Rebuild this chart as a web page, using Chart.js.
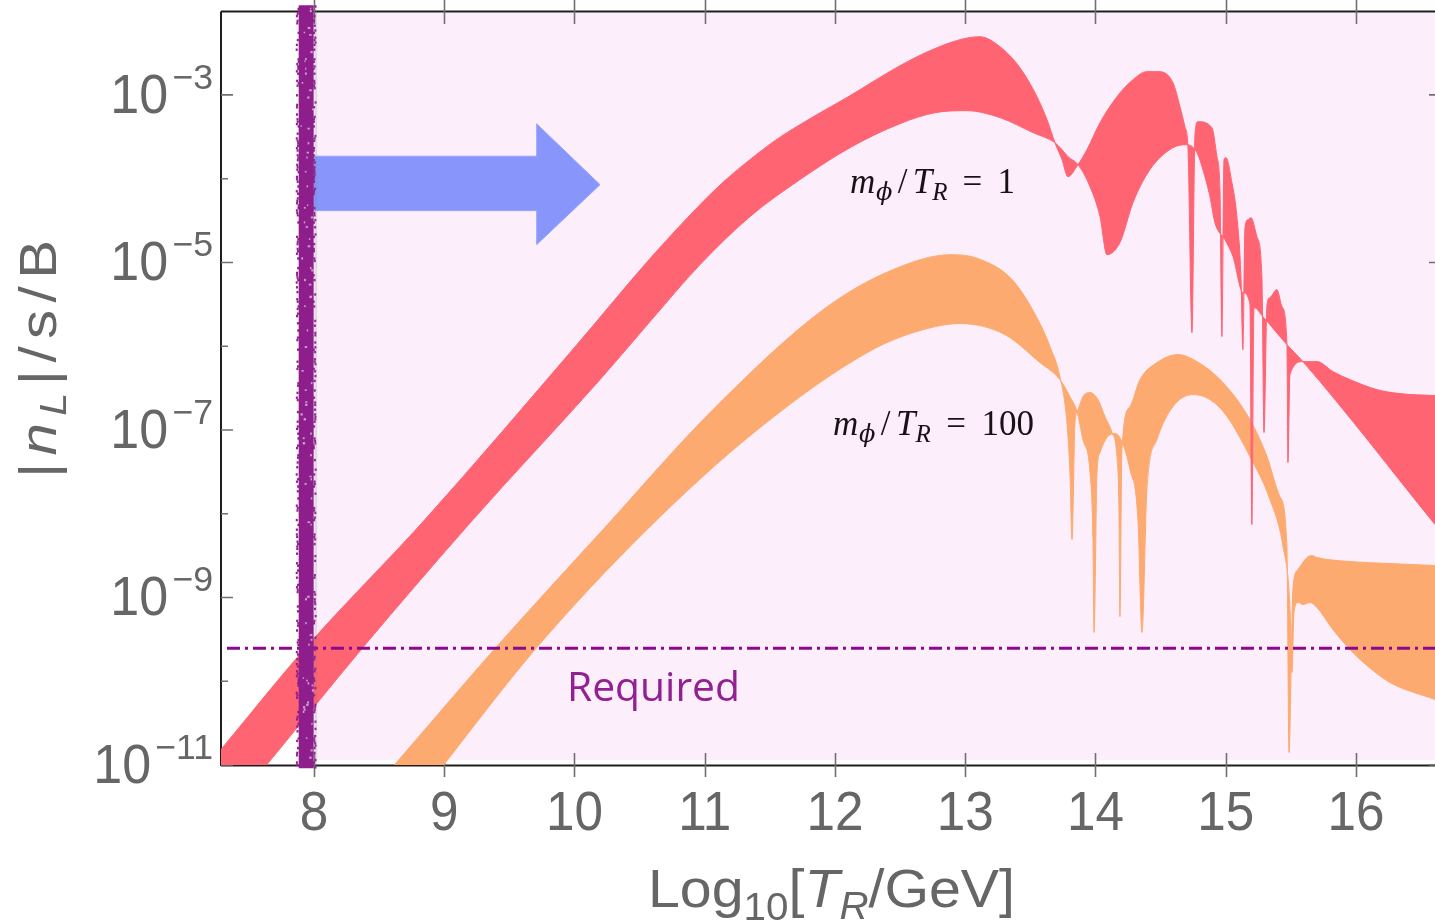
<!DOCTYPE html>
<html>
<head>
<meta charset="utf-8">
<script src="https://cdn.jsdelivr.net/npm/chart.js@4.4.0/dist/chart.umd.min.js"></script>
<style>
  html, body { margin: 0; padding: 0; background: #fff; }
</style>
</head>
<body>
<canvas id="c" width="1435" height="923"></canvas>
<script>
// every pair is [log10(T_R/GeV), log10(|n_L|/s/B)]
const redUpper = [
  [7.286,-10.815],[7.931,-9.609],[8.852,-8.070],[10.019,-5.981],[10.580,-4.954],[10.964,-4.310],
  [11.155,-4.023],[11.347,-3.773],[11.539,-3.546],[11.731,-3.355],[12.115,-3.009],[12.499,-2.651],
  [12.729,-2.472],[12.960,-2.340],[13.113,-2.305],
  [13.267,-2.424],[13.420,-2.675],[13.551,-3.021],[13.628,-3.295],[13.689,-3.570],[13.743,-3.773],
  [13.789,-3.976],[13.866,-3.832],[13.935,-3.653],[14.035,-3.331],[14.165,-3.021],[14.288,-2.818],
  [14.395,-2.722],[14.488,-2.722],[14.595,-2.854],[14.649,-3.140],[14.687,-3.379],[14.710,-3.618],
  [14.741,-5.838],[14.764,-3.474],[14.787,-3.319],[14.894,-3.391],[14.933,-3.737],[14.956,-4.131],
  [14.971,-5.885],[14.987,-3.773],[15.002,-3.749],[15.048,-4.047],[15.086,-4.453],[15.117,-5.169],
  [15.132,-6.041],[15.148,-4.584],[15.171,-4.489],[15.194,-4.465],[15.240,-4.692],[15.278,-5.169],
  [15.294,-7.031],[15.317,-5.503],[15.340,-5.420],[15.393,-5.324],[15.432,-5.527],[15.470,-5.957],
  [15.478,-7.389],[15.493,-6.339],[15.593,-6.184],[15.701,-6.184],[15.823,-6.303],[15.954,-6.399],
  [16.161,-6.518],[16.338,-6.566],[16.607,-6.590]
];
const redLower = [
  [7.286,-11.651],[7.639,-10.994],[8.369,-9.609],[9.221,-8.070],[10.196,-6.399],[10.580,-5.706],
  [10.964,-5.026],[11.347,-4.453],[11.731,-4.011],[12.115,-3.630],[12.499,-3.343],[12.768,-3.212],
  [13.013,-3.188],
  [13.267,-3.271],[13.520,-3.450],[13.689,-3.570],[13.743,-3.653],[13.789,-3.737],[13.866,-3.832],
  [13.958,-4.095],[14.035,-4.453],[14.088,-4.907],[14.188,-4.763],[14.288,-4.286],[14.418,-3.892],
  [14.595,-3.630],[14.702,-3.594],[14.779,-3.689],[14.825,-3.892],[14.879,-4.214],[14.917,-4.525],
  [14.994,-4.728],[15.056,-4.931],[15.132,-5.360],[15.186,-5.492],[15.201,-8.129],[15.217,-5.539],
  [15.286,-5.647],[15.470,-5.981],[15.593,-6.184],[16.607,-8.129]
];
const orangeUpper = [
  [8.400,-11.390],[8.607,-11.018],[9.390,-9.609],[10.219,-8.189],[11.071,-6.745],[11.931,-5.539],
  [12.445,-5.086],[12.891,-4.907],[13.098,-4.954],[13.367,-5.217],[13.574,-5.730],[13.651,-6.005],
  [13.727,-6.363],[13.781,-6.912],[13.804,-7.509],[13.820,-8.308],[13.843,-6.912],[13.866,-6.757],
  [13.904,-6.602],[13.958,-6.554],[14.019,-6.637],[14.073,-6.840],[14.127,-7.031],[14.165,-7.318],
  [14.180,-7.915],[14.188,-9.228],[14.203,-7.234],[14.265,-6.721],[14.342,-6.399],[14.472,-6.196],
  [14.633,-6.100],[14.779,-6.184],[14.979,-6.434],[15.186,-6.876],[15.317,-7.318],[15.416,-7.795],
  [15.470,-8.392],[15.486,-10.851],[15.516,-8.905],[15.555,-8.667],[15.624,-8.523],[15.662,-8.500],
  [15.701,-8.523],[15.954,-8.571],[16.261,-8.595],[16.607,-8.619]
];
const orangeLower = [
  [8.400,-12.200],[8.998,-10.994],[9.704,-9.609],[10.557,-8.189],[11.416,-6.983],[12.276,-6.052],
  [12.653,-5.814],[12.960,-5.730],[13.305,-5.862],[13.574,-6.196],[13.727,-6.399],[13.804,-6.602],
  [13.858,-6.781],[13.904,-7.115],[13.958,-7.509],[13.981,-8.308],[13.989,-9.418],[14.012,-7.509],
  [14.035,-7.270],[14.088,-7.091],[14.150,-7.043],[14.203,-7.139],[14.265,-7.473],[14.326,-8.070],
  [14.357,-9.418],[14.395,-7.712],[14.472,-7.115],[14.595,-6.721],[14.749,-6.578],[14.879,-6.637],
  [15.010,-6.840],[15.186,-7.318],[15.340,-7.831],[15.440,-8.392],[15.493,-9.108],[15.509,-9.896],
  [15.524,-9.180],[15.555,-9.060],[15.593,-9.084],[15.647,-9.060],[15.701,-9.120],[15.823,-9.383],
  [15.954,-9.621],[16.084,-9.812],[16.261,-10.015],[16.607,-10.218]
];
const arrowShape = [
  [7.992,-3.732],[9.710,-3.732],[9.710,-3.346],[10.196,-4.071],[9.710,-4.787],[9.710,-4.381],[7.992,-4.381]
];
const requiredLog = -9.607;
const cutLog10T = 7.94;
const xTickValues = [8, 9, 10, 11, 12, 13, 14, 15, 16];
const yLabelExps = [-11, -9, -7, -5, -3];
const xMin = 7.286, xMax = 16.607, yMinExp = -11, yMaxExp = -2.01;

const RED = 'rgb(255,100,115)';
const ORANGE = 'rgb(253,170,112)';
const PINK = 'rgb(253,238,252)';
const PURPLE = 'rgb(142,30,140)';
const GREY = '#666666';

const toPts = arr => arr.map(([lx, ly]) => ({x: lx, y: Math.pow(10, ly)}));

function measureRuns(ctx, runs, sx = 1) {
  let w = 0;
  runs.forEach(r => {
    ctx.font = r.f;
    r.w = ctx.measureText(r.t).width * (r.sx || sx);
    w += r.w;
  });
  return w;
}
// draws a row of text pieces; either squeezes them (sx) or spreads them to a width
function drawRuns(ctx, runs, left, base, opt = {}) {
  let sx = opt.sx || 1;
  let natural = measureRuns(ctx, runs, sx);
  if (opt.width && opt.mode === 'scale') {
    sx = sx * opt.width / natural;
    runs.forEach(r => { if (r.sx) r.sx = r.sx * opt.width / natural; });
    natural = measureRuns(ctx, runs, sx);
  }
  const ws = opt.weights || runs.slice(1).map(() => 1);
  const wsum = ws.reduce((a, b) => a + b, 0) || 1;
  const extra = (opt.width && opt.mode !== 'scale') ? (opt.width - natural) / wsum : 0;
  let cx = left;
  runs.forEach((r, i) => {
    ctx.save();
    ctx.font = r.f;
    ctx.translate(cx, base + (r.dy || 0));
    ctx.scale(r.sx || sx, 1);
    ctx.fillText(r.t, 0, 0);
    ctx.restore();
    cx += r.w + (i < runs.length - 1 ? extra * ws[i] : 0);
  });
  return cx - left;
}

// fixed hash, only for the crayon look of the cut line
const hash = i => { const s = Math.sin(i * 12.9898) * 43758.5453; return s - Math.floor(s); };

const framePlugin = {
  id: 'frame',
  beforeDatasetsDraw(chart) {
    const {ctx, chartArea: a, scales: {x, y}} = chart;
    ctx.save();
    // shaded allowed region
    const px0 = x.getPixelForValue(8);
    const pyB = y.getPixelForValue(Math.pow(10, -10.94));
    ctx.fillStyle = PINK;
    ctx.fillRect(px0, a.top + 1, a.right - px0, pyB - a.top - 1);

    ctx.strokeStyle = '#1e1e1e';
    ctx.lineWidth = 2;
    ctx.beginPath();
    ctx.moveTo(a.left, a.top - 0.5); ctx.lineTo(a.left, a.bottom + 1);
    ctx.moveTo(a.left, a.top - 0.5); ctx.lineTo(a.right, a.top - 0.5);
    ctx.moveTo(a.left, a.bottom + 0.5); ctx.lineTo(a.right, a.bottom + 0.5);
    ctx.stroke();

    ctx.strokeStyle = '#707070';
    ctx.lineWidth = 1.6;
    ctx.beginPath();
    xTickValues.forEach(v => {
      const px = Math.round(x.getPixelForValue(v)) + 0.5;
      ctx.moveTo(px, a.bottom - 12); ctx.lineTo(px, a.bottom + 12);
      ctx.moveTo(px, 0); ctx.lineTo(px, a.top + 12);
    });
    for (let e = -11; e <= -2; e++) {
      const py = y.getPixelForValue(Math.pow(10, e));
      if (py < a.top) continue;
      const len = (e % 2 !== 0) ? 12 : 7;
      ctx.moveTo(a.left, py); ctx.lineTo(a.left + len, py);
      if (e % 2 !== 0) { ctx.moveTo(a.right - 6, py); ctx.lineTo(a.right, py); }
    }
    ctx.stroke();
    ctx.restore();
  },
  afterDatasetsDraw(chart) {
    const {ctx, scales: {x, y}} = chart;
    ctx.save();

    // crayon texture on the cut line
    const cx0 = x.getPixelForValue(cutLog10T);
    const yTop = y.getPixelForValue(Math.pow(10, -1.93));
    const yBot = y.getPixelForValue(Math.pow(10, -11.04));
    for (let i = 0; yTop + i * 2.4 < yBot; i++) {
      const yy = yTop + i * 2.4;
      const h1 = hash(i + 1), h2 = hash(i + 101), h3 = hash(i + 211);
      ctx.fillStyle = PURPLE;
      if (h1 < 0.5) ctx.fillRect(cx0 - 8.5 - h2 * 2, yy, 2, 2.4);
      if (h3 < 0.5) ctx.fillRect(cx0 + 6.5 + h1 * 2, yy, 2, 2.4);
      if (h2 < 0.3) {
        ctx.fillStyle = 'rgba(225,200,225,0.75)';
        ctx.fillRect(cx0 - 6 + h3 * 12, yy, 1.2 + h1 * 1.5, 1.5 + h2 * 3);
      }
    }
    ctx.fillStyle = 'rgba(120,120,120,0.18)';
    ctx.fillRect(cx0 + 8.5, yTop + 4, 2.5, yBot - yTop - 4);

    ctx.textBaseline = 'alphabetic';
    ctx.textAlign = 'left';
    ctx.fillStyle = GREY;
    const big = '56px "Liberation Sans"';
    const sup = '35px "Liberation Sans"';

    // x tick labels
    xTickValues.forEach(v => {
      const runs = [{t: String(v), f: big}];
      const w = measureRuns(ctx, runs, 0.915);
      drawRuns(ctx, runs, x.getPixelForValue(v) - w / 2, 830, {sx: 0.915});
    });
    // y tick labels 10^e
    yLabelExps.forEach(e => {
      const py = y.getPixelForValue(Math.pow(10, e));
      const runs = [{t: '10', f: big, sx: 0.93}, {t: '\u2212' + (-e), f: sup, sx: 1.02, dy: -24}];
      const w = measureRuns(ctx, runs) + 4;
      drawRuns(ctx, runs, 213 - w, py + 18, {width: w, weights: [1]});
    });

    // x title
    drawRuns(ctx, [
      {t: 'Log', f: '54px "Liberation Sans"'},
      {t: '10', f: '38px "Liberation Sans"', dy: 13},
      {t: '[', f: '54px "Liberation Sans"'},
      {t: 'T', f: 'italic 54px "Liberation Sans"'},
      {t: 'R', f: 'italic 38px "Liberation Sans"', dy: 12},
      {t: '/GeV]', f: '54px "Liberation Sans"'}
    ], 648, 907, {width: 367, mode: 'scale'});

    // y title, rotated
    ctx.save();
    ctx.translate(56, 478);
    ctx.rotate(-Math.PI / 2);
    drawRuns(ctx, [
      {t: '|', f: '52px "Liberation Sans"'},
      {t: 'n', f: 'italic 52px "Liberation Sans"'},
      {t: 'L', f: 'italic 37px "Liberation Sans"', dy: 10},
      {t: '|', f: '52px "Liberation Sans"'},
      {t: '/', f: '52px "Liberation Sans"'},
      {t: 's', f: '52px "Liberation Sans"'},
      {t: '/', f: '52px "Liberation Sans"'},
      {t: 'B', f: '52px "Liberation Sans"'}
    ], 0, 0, {sx: 1.12, width: 238});
    ctx.restore();

    // "Required"
    ctx.fillStyle = 'rgb(147,32,147)';
    drawRuns(ctx, [{t: 'Required', f: '40px "Open Sans"'}], 567, 701, {width: 173, mode: 'scale'});

    // band labels
    ctx.fillStyle = '#1a1018';
    const mathLabel = (num) => [
      {t: 'm', f: 'italic 35px "Liberation Serif"'},
      {t: '\u03D5', f: 'italic 24px "DejaVu Serif"', dy: 7},
      {t: '/', f: '35px "Liberation Serif"'},
      {t: 'T', f: 'italic 35px "Liberation Serif"'},
      {t: 'R', f: 'italic 25px "Liberation Serif"', dy: 7},
      {t: '=', f: '35px "Liberation Serif"'},
      {t: num, f: '35px "Liberation Serif"'}
    ];
    const wts = [0.05, 0.35, 0.35, 0.0, 1, 1];
    drawRuns(ctx, mathLabel('1'), 850, 193, {width: 165, weights: wts});
    drawRuns(ctx, mathLabel('100'), 833, 435, {width: 201, weights: wts});
    ctx.restore();
  }
};

const bandLine = {borderWidth: 1, cubicInterpolationMode: 'monotone'};

new Chart(document.getElementById('c'), {
  type: 'line',
  data: {
    datasets: [
      {
        label: 'cut',
        data: [{x: cutLog10T, y: Math.pow(10, -11.04)}, {x: cutLog10T, y: Math.pow(10, -1.93)}],
        borderColor: PURPLE, borderWidth: 15, clip: false, fill: false
      },
      {
        label: 'arrow',
        data: toPts(arrowShape),
        fill: 'shape', backgroundColor: 'rgb(136,150,252)',
        borderColor: 'rgb(150,162,255)', borderWidth: 1
      },
      {
        label: 'required',
        data: [{x: 7.332, y: Math.pow(10, requiredLog)}, {x: xMax, y: Math.pow(10, requiredLog)}],
        borderColor: 'rgb(139,10,139)', borderWidth: 3, borderDash: [13, 5, 3, 5], fill: false
      },
      {label: 'm/T=1 a', data: toPts(redUpper), borderColor: RED, fill: false, ...bandLine},
      {label: 'm/T=1 b', data: toPts(redLower), borderColor: RED, fill: '-1', backgroundColor: RED, ...bandLine},
      {label: 'm/T=100 a', data: toPts(orangeUpper), borderColor: ORANGE, fill: false, ...bandLine},
      {label: 'm/T=100 b', data: toPts(orangeLower), borderColor: ORANGE, fill: '-1', backgroundColor: ORANGE, ...bandLine}
    ]
  },
  options: {
    responsive: false,
    animation: false,
    devicePixelRatio: 1,
    layout: {padding: {left: 221, top: 12, right: 0, bottom: 158}},
    elements: {point: {radius: 0}, line: {tension: 0}},
    scales: {
      x: {type: 'linear', min: xMin, max: xMax, display: false},
      y: {type: 'logarithmic', min: Math.pow(10, yMinExp), max: Math.pow(10, yMaxExp), display: false}
    },
    plugins: {legend: {display: false}, tooltip: {enabled: false}}
  },
  plugins: [framePlugin]
});
</script>
</body>
</html>
